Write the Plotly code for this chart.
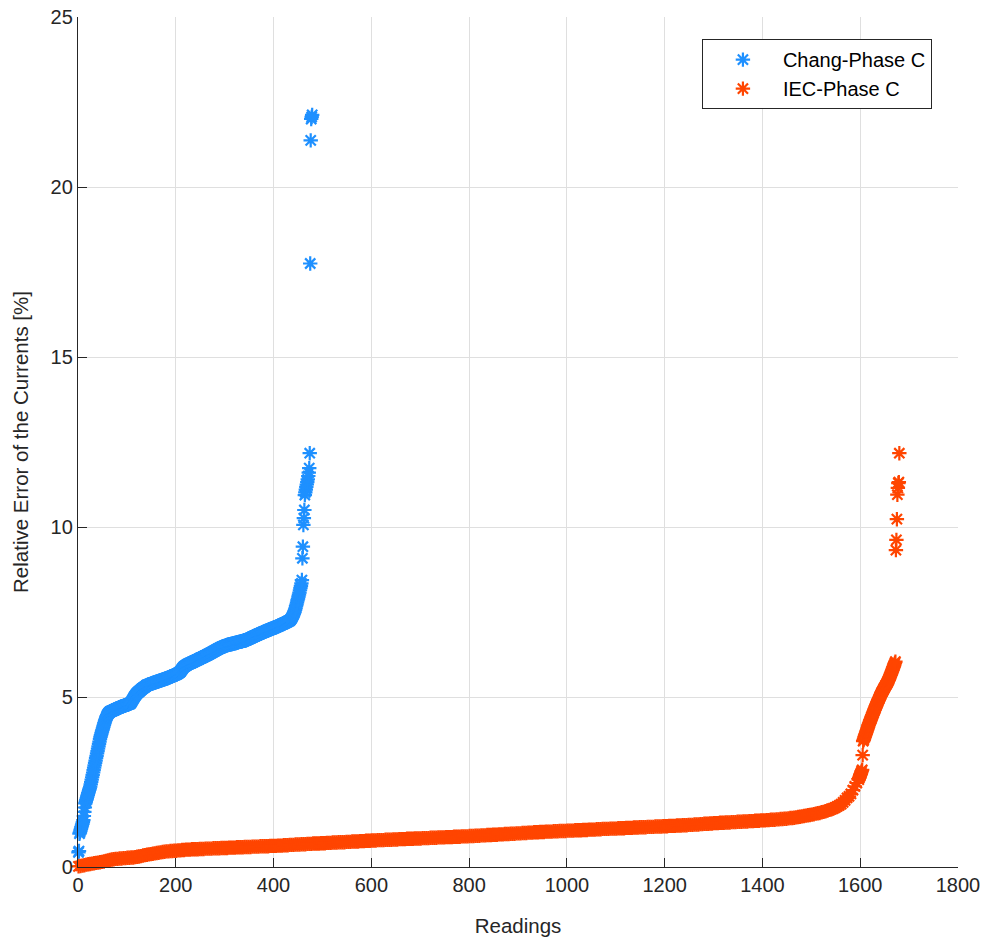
import plotly.graph_objects as go

# ---------------- data ----------------
series_names = ["Chang-Phase C", "IEC-Phase C"]

# Chang-Phase C : one value per reading (reading 1, 2, 3, ...)
chang_values = [
    0.43, 0.47,
    0.98, 1.02, 1.07, 1.12, 1.17, 1.22, 1.27, 1.32, 1.38,
    1.50, 1.62, 1.75, 1.87,
    1.92, 1.97, 2.02, 2.07, 2.12, 2.17, 2.22, 2.27, 2.31, 2.36,
    2.43, 2.50, 2.57, 2.64, 2.71, 2.78, 2.85,
    2.92, 2.99, 3.06, 3.13, 3.20, 3.27, 3.34,
    3.41, 3.48, 3.55, 3.62, 3.69, 3.76, 3.83,
    3.88, 3.93, 3.98, 4.03, 4.08, 4.13, 4.18, 4.23, 4.28, 4.32,
    4.36, 4.40, 4.44, 4.47, 4.49, 4.51, 4.53, 4.54, 4.56, 4.57,
    4.58, 4.58, 4.59, 4.59, 4.60, 4.61, 4.61, 4.62, 4.63, 4.63, 4.64, 4.65, 4.65, 4.66, 4.67, 4.67, 4.68, 4.69, 4.69, 4.70, 4.71,
    4.71, 4.72, 4.72, 4.73, 4.73, 4.74, 4.74, 4.75, 4.75, 4.76, 4.76, 4.77, 4.77, 4.78, 4.78, 4.79, 4.79, 4.80, 4.80, 4.81,
    4.83, 4.85, 4.87, 4.90, 4.92, 4.95, 4.97, 5.00, 5.02, 5.04, 5.06, 5.08, 5.10,
    5.11, 5.13, 5.14, 5.15, 5.16, 5.18, 5.19, 5.20, 5.21, 5.23, 5.24, 5.25, 5.26, 5.27, 5.28, 5.29, 5.30, 5.31, 5.32, 5.34, 5.35,
    5.35, 5.36, 5.36, 5.37, 5.37, 5.38, 5.38, 5.39, 5.39, 5.40, 5.40, 5.41, 5.41, 5.42, 5.42, 5.43, 5.43, 5.44, 5.44, 5.45, 5.45,
    5.46, 5.46, 5.47, 5.47, 5.48, 5.48, 5.49, 5.49, 5.50, 5.50, 5.51, 5.51, 5.52, 5.52, 5.53, 5.53, 5.54, 5.54, 5.55, 5.55, 5.56, 5.56, 5.57, 5.58, 5.58, 5.59, 5.60,
    5.60, 5.61, 5.61, 5.62, 5.62, 5.63, 5.64, 5.64, 5.65, 5.65, 5.66, 5.67, 5.67, 5.68, 5.69, 5.70, 5.71, 5.72, 5.73, 5.74,
    5.76, 5.78, 5.80, 5.82, 5.84, 5.86, 5.88, 5.89, 5.90, 5.91, 5.92, 5.93, 5.94, 5.95, 5.96, 5.97, 5.97, 5.98, 5.99, 5.99, 6.00, 6.00, 6.01, 6.02, 6.02, 6.03, 6.04,
    6.05, 6.05, 6.06, 6.07, 6.07, 6.08, 6.09, 6.09, 6.10, 6.11, 6.11, 6.12, 6.13, 6.14, 6.14, 6.15, 6.16, 6.16, 6.17, 6.18, 6.19, 6.19, 6.20, 6.21, 6.21, 6.22, 6.23, 6.23, 6.24, 6.25, 6.26, 6.26, 6.27, 6.28,
    6.29, 6.30, 6.30, 6.31, 6.32, 6.33, 6.34, 6.34, 6.35, 6.36, 6.37, 6.38, 6.38, 6.39, 6.40, 6.41, 6.42, 6.42, 6.43, 6.44, 6.45, 6.45, 6.46, 6.47, 6.47, 6.48, 6.48, 6.49, 6.49, 6.50, 6.50, 6.51, 6.52, 6.52, 6.53,
    6.53, 6.54, 6.54, 6.54, 6.55, 6.55, 6.55, 6.56, 6.56, 6.56, 6.57, 6.57, 6.58, 6.58, 6.58, 6.59, 6.59, 6.59, 6.60, 6.60, 6.61, 6.61, 6.61, 6.62, 6.62, 6.62, 6.63, 6.63, 6.64, 6.64, 6.64, 6.65, 6.65, 6.65, 6.66, 6.66, 6.67, 6.67, 6.67, 6.68,
    6.69, 6.70, 6.70, 6.71, 6.72, 6.72, 6.73, 6.74, 6.74, 6.75, 6.76, 6.76, 6.77, 6.78, 6.78, 6.79, 6.80, 6.80, 6.81, 6.82, 6.82, 6.83, 6.84, 6.84, 6.85, 6.86, 6.86, 6.87,
    6.88, 6.88, 6.89, 6.89, 6.90, 6.91, 6.91, 6.92, 6.92, 6.93, 6.94, 6.94, 6.95, 6.95, 6.96, 6.97, 6.97, 6.98, 6.98, 6.99, 7.00, 7.00, 7.01, 7.01, 7.02, 7.03, 7.03, 7.04, 7.04, 7.05, 7.05, 7.06, 7.06, 7.07,
    7.08, 7.08, 7.09, 7.10, 7.10, 7.11, 7.12, 7.12, 7.13, 7.14, 7.14, 7.15, 7.16, 7.16, 7.17, 7.18, 7.18, 7.19, 7.20, 7.20, 7.21, 7.22, 7.23, 7.24, 7.24, 7.25, 7.26,
    7.28, 7.30, 7.32, 7.35, 7.38, 7.41, 7.44, 7.47, 7.51, 7.56,
    7.61, 7.67, 7.72, 7.78, 7.84, 7.89, 7.95,
    8.01, 8.07, 8.14, 8.20, 8.27, 8.34, 8.44,
    9.08, 9.42,
    10.06, 10.26, 10.50,
    10.94, 11.02, 11.10, 11.18, 11.25, 11.32, 11.40, 11.50, 11.60, 11.73,
    12.17, 17.75, 21.37, 22.00, 22.06, 22.12,
]

# IEC-Phase C, flat part: one value every 4th reading (readings 1, 5, 9, ...)
iec_values_every4 = [
    0.02, 0.03, 0.04, 0.05, 0.07, 0.08, 0.09, 0.10, 0.11, 0.12, 0.13, 0.14, 0.15, 0.16, 0.18, 0.19, 0.21, 0.22, 0.23, 0.24,
    0.24, 0.25, 0.25, 0.26, 0.26, 0.27, 0.27, 0.28, 0.28, 0.29, 0.30, 0.31, 0.32, 0.34, 0.35, 0.36, 0.37, 0.38, 0.39, 0.40,
    0.41, 0.42, 0.43, 0.44, 0.45, 0.46, 0.46, 0.47, 0.47, 0.48, 0.48, 0.49, 0.49, 0.50, 0.50, 0.51, 0.51, 0.51, 0.52, 0.52,
    0.52, 0.52, 0.53, 0.53, 0.53, 0.54, 0.54, 0.54, 0.54, 0.55, 0.55, 0.55, 0.55, 0.56, 0.56, 0.56, 0.56, 0.57, 0.57, 0.57,
    0.57, 0.58, 0.58, 0.58, 0.58, 0.59, 0.59, 0.59, 0.59, 0.60, 0.60, 0.60, 0.60, 0.61, 0.61, 0.61, 0.61, 0.61, 0.62, 0.62,
    0.62, 0.62, 0.63, 0.63, 0.63, 0.64, 0.64, 0.64, 0.65, 0.65, 0.65, 0.66, 0.66, 0.66, 0.67, 0.67, 0.67, 0.68, 0.68, 0.68,
    0.69, 0.69, 0.69, 0.69, 0.70, 0.70, 0.70, 0.71, 0.71, 0.71, 0.72, 0.72, 0.72, 0.73, 0.73, 0.73, 0.73, 0.74, 0.74, 0.74,
    0.75, 0.75, 0.75, 0.75, 0.76, 0.76, 0.76, 0.77, 0.77, 0.77, 0.78, 0.78, 0.78, 0.79, 0.79, 0.79, 0.79, 0.80, 0.80, 0.80,
    0.80, 0.81, 0.81, 0.81, 0.82, 0.82, 0.82, 0.82, 0.83, 0.83, 0.83, 0.83, 0.84, 0.84, 0.84, 0.84, 0.85, 0.85, 0.85, 0.85,
    0.86, 0.86, 0.86, 0.86, 0.87, 0.87, 0.87, 0.87, 0.88, 0.88, 0.88, 0.88, 0.89, 0.89, 0.89, 0.89, 0.90, 0.90, 0.90, 0.90,
    0.91, 0.91, 0.91, 0.92, 0.92, 0.92, 0.93, 0.93, 0.93, 0.94, 0.94, 0.94, 0.95, 0.95, 0.95, 0.96, 0.96, 0.96, 0.97, 0.97,
    0.97, 0.98, 0.98, 0.98, 0.99, 0.99, 0.99, 1.00, 1.00, 1.00, 1.01, 1.01, 1.01, 1.02, 1.02, 1.02, 1.03, 1.03, 1.03, 1.04,
    1.04, 1.04, 1.04, 1.05, 1.05, 1.05, 1.06, 1.06, 1.06, 1.06, 1.07, 1.07, 1.07, 1.07, 1.08, 1.08, 1.08, 1.08, 1.09, 1.09,
    1.09, 1.10, 1.10, 1.10, 1.10, 1.11, 1.11, 1.11, 1.12, 1.12, 1.12, 1.12, 1.13, 1.13, 1.13, 1.13, 1.14, 1.14, 1.14, 1.14,
    1.15, 1.15, 1.15, 1.15, 1.16, 1.16, 1.16, 1.17, 1.17, 1.17, 1.17, 1.18, 1.18, 1.18, 1.18, 1.19, 1.19, 1.19, 1.19, 1.20,
    1.20, 1.20, 1.21, 1.21, 1.21, 1.21, 1.22, 1.22, 1.22, 1.23, 1.23, 1.23, 1.24, 1.24, 1.24, 1.25, 1.25, 1.25, 1.26, 1.26,
    1.27, 1.27, 1.27, 1.28, 1.28, 1.29, 1.29, 1.29, 1.30, 1.30, 1.30, 1.31, 1.31, 1.31, 1.32, 1.32, 1.32, 1.33, 1.33, 1.33,
    1.34, 1.34, 1.34, 1.35, 1.35, 1.35, 1.36, 1.36, 1.36, 1.37, 1.37, 1.37, 1.38, 1.38, 1.39, 1.39, 1.39, 1.40, 1.40, 1.41,
    1.41, 1.42, 1.42, 1.43, 1.44, 1.44, 1.45, 1.46, 1.47, 1.48, 1.49, 1.50, 1.51, 1.52, 1.53, 1.54, 1.55, 1.57, 1.58, 1.59,
    1.61, 1.62, 1.64, 1.66, 1.68, 1.70, 1.72, 1.75, 1.78, 1.81, 1.85, 1.90, 1.96, 2.03, 2.08, 2.15, 2.26, 2.37, 2.47, 2.57,
]

# IEC-Phase C, steep tail: one value per reading (readings 1598, 1599, ...)
iec_tail_start = 1598
iec_values_tail = [
    2.62, 2.66, 2.70, 2.74, 2.78, 2.82, 2.86,
    3.29,
    3.70, 3.74, 3.78, 3.83, 3.87, 3.91, 3.95, 3.99, 4.03, 4.08, 4.13,
    4.17, 4.21, 4.24, 4.28, 4.32, 4.36, 4.40, 4.43, 4.47, 4.51, 4.54, 4.58, 4.62,
    4.66, 4.69, 4.73, 4.76, 4.80, 4.83, 4.86, 4.90, 4.93, 4.96, 5.00, 5.03, 5.06, 5.10,
    5.13, 5.15, 5.18, 5.20, 5.23, 5.26, 5.28, 5.31, 5.34, 5.36, 5.39, 5.41, 5.44, 5.47, 5.50,
    5.54, 5.58, 5.61, 5.65, 5.69, 5.72, 5.76, 5.80,
    5.84, 5.88, 5.92, 5.96, 6.00, 6.04,
    9.32, 9.62, 10.23, 10.95, 11.15, 11.29, 11.32, 12.17,
]

x_ticks = [0, 200, 400, 600, 800, 1000, 1200, 1400, 1600, 1800]
y_ticks = [0, 5, 10, 15, 20, 25]

# readings (x) for each series
chang_readings = list(range(1, len(chang_values) + 1))
iec_readings = list(range(1, 4 * len(iec_values_every4), 4)) + \
    list(range(iec_tail_start, iec_tail_start + len(iec_values_tail)))
iec_values = iec_values_every4 + iec_values_tail

# ---------------- figure ----------------
BLUE = "#1E90FF"
RED = "#FF4500"
AXC = "#262626"
FONT = "Liberation Sans, Arial, sans-serif"

fig = go.Figure()
for name, xs, ys, col in [
    (series_names[0], chang_readings, chang_values, BLUE),
    (series_names[1], iec_readings, iec_values, RED),
]:
    fig.add_trace(go.Scatter(
        x=xs, y=ys, name=name, mode="markers", cliponaxis=False,
        marker=dict(symbol="asterisk-open", size=12, color=col,
                    line=dict(color=col, width=2.2)),
    ))

axis_common = dict(
    showgrid=True, gridcolor="#dfdfdf", gridwidth=1,
    showline=True, linecolor=AXC, linewidth=1.3,
    ticks="inside", ticklen=9, tickwidth=1.3, tickcolor=AXC,
    zeroline=False, mirror=False, automargin=False,
    ticklabeloverflow="allow",
    tickfont=dict(family=FONT, size=20, color=AXC),
)

fig.update_layout(
    width=985, height=943,
    margin=dict(l=78, r=27, t=17, b=76),
    paper_bgcolor="white", plot_bgcolor="white",
    font=dict(family=FONT, color=AXC),
    xaxis=dict(range=[0, 1800], tickvals=x_ticks,
               title=dict(text="Readings", font=dict(family=FONT, size=20.5, color=AXC), standoff=23),
               **axis_common),
    yaxis=dict(range=[0, 25], tickvals=y_ticks,
               title=dict(text="Relative Error of the Currents [%]", font=dict(family=FONT, size=20.5, color=AXC), standoff=16),
               **axis_common),
    legend=dict(x=0.709, y=0.974, xanchor="left", yanchor="top",
                bgcolor="white", bordercolor=AXC, borderwidth=1,
                font=dict(family=FONT, size=20, color="#000000"),
                itemwidth=70, tracegroupgap=0),
    showlegend=True,
)

fig.write_html(
    "out.html",
    config={"displayModeBar": False},
    post_script="document.body.style.margin='0';document.body.style.overflow='hidden';",
)
